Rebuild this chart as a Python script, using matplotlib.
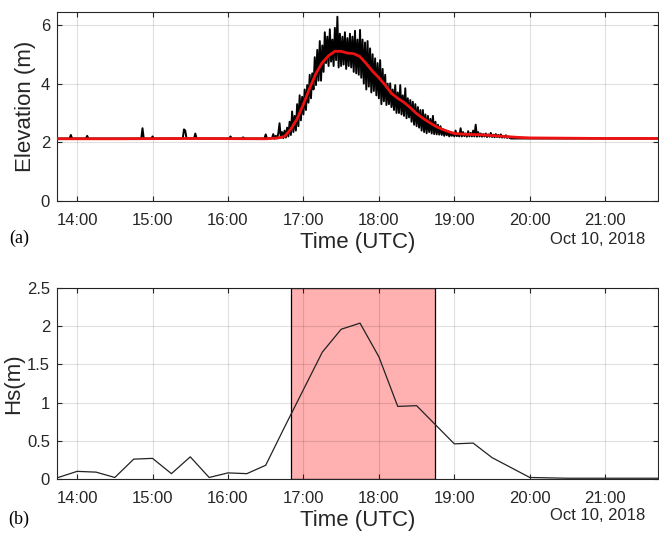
import datetime
import numpy as np
import matplotlib
matplotlib.use("Agg")
import matplotlib.pyplot as plt
import matplotlib.dates as mdates

plt.rcParams["font.family"] = ["Liberation Sans", "DejaVu Sans"]

DAY = datetime.datetime(2018, 10, 10)


def hm(s):
    h, m = map(int, s.split(":"))
    return DAY + datetime.timedelta(hours=h, minutes=m)


# ---------------- (a) water surface elevation ----------------
series_start = "13:44"
series_end = "21:43"
baseline_level = 2.13

# isolated spikes during the calm period (time, elevation m)
spike_times = ["13:55", "14:08", "14:52", "15:00", "15:25", "15:26", "15:34",
               "16:02", "16:12", "16:30"]
spike_values = [2.25, 2.22, 2.48, 2.20, 2.44, 2.40, 2.30, 2.20, 2.17, 2.27]

# 1-minute raw elevation through the event, starting 16:35
storm_start = "16:35"
storm_values = [
    2.14, 2.28, 2.12, 2.22, 2.13, 2.30, 2.65, 2.15, 2.35, 2.14,
    2.40, 2.16, 2.50, 2.20, 2.70, 2.25, 3.05, 2.35, 2.90, 2.40,
    3.30, 2.55, 3.60, 2.75, 3.55, 2.95, 3.80, 3.10, 3.95, 3.35,
    4.30, 3.50, 4.35, 3.80, 4.90, 3.95, 5.15, 4.10, 5.45, 4.10,
    5.30, 4.40, 5.75, 4.70, 5.60, 4.60, 5.85, 4.75, 5.50, 4.60,
    5.90, 4.80, 6.28, 4.55, 5.70, 4.60, 5.60, 4.65, 5.75, 4.50,
    5.55, 4.60, 5.70, 4.55, 5.60, 4.40, 5.80, 4.35, 5.50, 4.30,
    5.83, 4.20, 5.50, 4.00, 5.40, 3.80, 5.45, 3.90, 5.20, 3.70,
    5.00, 3.75, 4.86, 3.60, 4.70, 3.50, 4.80, 3.30, 4.50, 3.40,
    4.30, 3.27, 4.00, 3.30, 4.01, 3.20, 3.80, 3.10, 3.95, 3.00,
    3.70, 3.00, 3.95, 2.95, 3.60, 2.90, 3.84, 2.82, 3.50, 2.85,
    3.44, 2.70, 3.38, 2.60, 3.30, 2.55, 3.20, 2.50, 3.10, 2.40,
    3.10, 2.35, 2.95, 2.31, 2.90, 2.35, 2.80, 2.30, 2.90, 2.28,
    2.70, 2.27, 2.60, 2.26, 2.55, 2.25, 2.45, 2.22, 2.40, 2.24,
    2.38, 2.20, 2.35, 2.22, 2.33, 2.20, 2.40, 2.21, 2.30, 2.20,
    2.48, 2.20, 2.35, 2.21, 2.30, 2.19, 2.38, 2.20, 2.32, 2.20,
    2.40, 2.20, 2.60, 2.19, 2.35, 2.20, 2.30, 2.19, 2.28, 2.20,
    2.30, 2.18, 2.27, 2.19, 2.32, 2.18, 2.26, 2.17, 2.28, 2.18,
    2.25, 2.17, 2.27, 2.16, 2.22, 2.16, 2.24, 2.15, 2.20, 2.15,
]

# smoothed (running-mean) elevation
smooth_times = ["13:44", "14:30", "15:30", "16:30", "16:40", "16:45", "16:50",
                "16:55", "17:00", "17:05", "17:10", "17:15", "17:20", "17:25",
                "17:30", "17:35", "17:40", "17:45", "17:50", "17:55", "18:00",
                "18:05", "18:10", "18:15", "18:20", "18:25", "18:30", "18:35",
                "18:40", "18:45", "18:50", "18:55", "19:00", "19:10", "19:20",
                "19:30", "19:40", "19:50", "20:00", "21:00", "21:43"]
smooth_values = [2.12, 2.12, 2.13, 2.12, 2.15, 2.20, 2.45, 2.80, 3.30, 3.85,
                 4.35, 4.72, 4.95, 5.10, 5.10, 5.04, 5.02, 4.92, 4.68, 4.42,
                 4.20, 3.95, 3.67, 3.50, 3.36, 3.18, 2.98, 2.82, 2.68, 2.55,
                 2.45, 2.37, 2.30, 2.27, 2.26, 2.23, 2.20, 2.17, 2.15, 2.13,
                 2.13]

# ---------------- (b) significant wave height ----------------
hs_times = ["13:45", "14:00", "14:15", "14:30", "14:45", "15:00", "15:15",
            "15:30", "15:45", "16:00", "16:15", "16:30", "16:45", "17:00",
            "17:15", "17:30", "17:45", "18:00", "18:15", "18:30", "18:45",
            "19:00", "19:15", "19:30", "19:45", "20:00", "20:15", "20:30",
            "20:45", "21:00", "21:15", "21:30", "21:45"]
hs_values = [0.02, 0.10, 0.09, 0.02, 0.26, 0.27, 0.07, 0.29, 0.02, 0.08,
             0.07, 0.18, 0.68, 1.17, 1.66, 1.96, 2.04, 1.60, 0.95, 0.96,
             0.71, 0.46, 0.47, 0.28, 0.15, 0.02, 0.015, 0.01, 0.01, 0.01,
             0.01, 0.01, 0.01]

event_start = "16:50"
event_end = "18:45"

x_ticks = ["14:00", "15:00", "16:00", "17:00", "18:00", "19:00", "20:00", "21:00"]
x_limits = ("13:44", "21:42")
date_label = "Oct 10, 2018"

# ---------------- build raw elevation record ----------------
t0 = hm(series_start)
n_min = int((hm(series_end) - t0).total_seconds() // 60) + 1
raw_t = [t0 + datetime.timedelta(minutes=i) for i in range(n_min)]
raw_v = np.full(n_min, baseline_level)
for s, v in zip(spike_times, spike_values):
    raw_v[int((hm(s) - t0).total_seconds() // 60)] = v
i0 = int((hm(storm_start) - t0).total_seconds() // 60)
raw_v[i0:i0 + len(storm_values)] = storm_values

AX_COLOR = "#262626"
fig = plt.figure(figsize=(6.59, 5.33), dpi=100)
W, H = 659, 533


def axes_px(left, top, right, bottom):
    return fig.add_axes([left / W, 1 - bottom / H, (right - left) / W, (bottom - top) / H])


ax1 = axes_px(57, 12, 658, 201)
ax2 = axes_px(57, 288, 658, 479)

ax1.plot(raw_t, raw_v, color="black", lw=1.4, zorder=2)
ax1.plot([hm(t) for t in smooth_times], smooth_values, color="#ee1111", lw=2.0, zorder=3)
ax1.set_ylim(0, 6.44)
ax1.set_yticks([0, 2, 4, 6])
ax1.set_ylabel("Elevation (m)", fontsize=16, color=AX_COLOR, va="center")
ax1.yaxis.set_label_coords(-0.053, 0.5)

ax2.axvspan(hm(event_start), hm(event_end), facecolor="#ffb0b0", edgecolor="black",
            lw=0.9, zorder=1)
ax2.plot([hm(t) for t in hs_times], hs_values, color="#222222", lw=0.9, zorder=3)
ax2.set_ylim(0, 2.5)
ax2.set_yticks([0, 0.5, 1, 1.5, 2, 2.5])
ax2.set_yticklabels(["0", "0.5", "1", "1.5", "2", "2.5"])
ax2.set_ylabel("Hs(m)", fontsize=16, color=AX_COLOR, va="center")
ax2.yaxis.set_label_coords(-0.072, 0.5)

for ax in (ax1, ax2):
    ax.set_xlim(hm(x_limits[0]), hm(x_limits[1]))
    ax.set_xticks([hm(t) for t in x_ticks])
    ax.xaxis.set_major_formatter(mdates.DateFormatter("%H:%M"))
    ax.grid(True, color="black", alpha=0.12, lw=0.8)
    ax.set_axisbelow(False)
    ax.tick_params(direction="in", length=3.5, width=0.8, colors=AX_COLOR,
                   labelsize=12, top=True, right=True)
    ax.tick_params(axis="x", pad=8.5)
    ax.tick_params(axis="y", pad=5)
    for sp in ax.spines.values():
        sp.set_color(AX_COLOR)
        sp.set_linewidth(0.8)
    ax.set_xlabel("Time (UTC)", fontsize=16, color=AX_COLOR)
    ax.xaxis.label.set_va("center")

ax1.xaxis.set_label_coords(0.5, -0.222)
ax2.xaxis.set_label_coords(0.5, -0.215)

fig.text(645 / W, 1 - 240 / H, date_label, ha="right", va="center",
         fontsize=12, color=AX_COLOR)
fig.text(645 / W, 1 - 516 / H, date_label, ha="right", va="center",
         fontsize=12, color=AX_COLOR)
fig.text(19 / W, 1 - 238 / H, "(a)", ha="center", va="center",
         fontsize=13, family="Liberation Serif")
fig.text(19 / W, 1 - 519 / H, "(b)", ha="center", va="center",
         fontsize=13, family="Liberation Serif")

fig.savefig("out.png", dpi=100)
